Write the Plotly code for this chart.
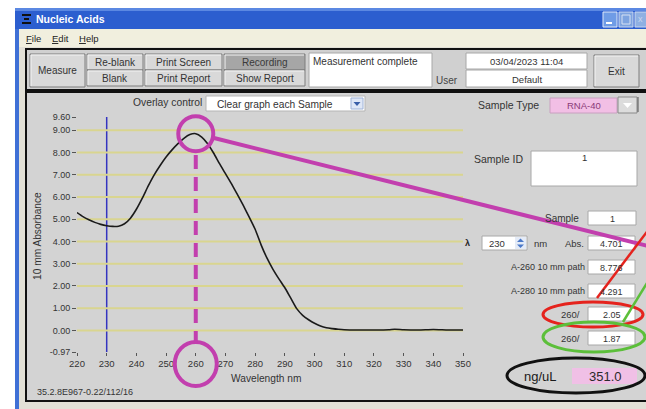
import plotly.graph_objects as go

# ---------------- data ----------------
wavelength = [220, 222, 224, 226, 228, 230, 232, 234, 236, 238, 240, 242, 244, 246, 248,
              250, 252, 254, 256, 258, 260, 262, 264, 266, 268, 270, 272, 274, 276, 278,
              280, 282, 284, 286, 288, 290, 292, 294, 296, 298, 300, 302, 304, 306, 308,
              310, 315, 320, 325, 327, 330, 335, 340, 345, 350]
absorbance = [5.30, 5.12, 4.98, 4.86, 4.77, 4.71, 4.68, 4.69, 4.80, 5.05, 5.45, 5.95, 6.50, 7.00, 7.42,
              7.80, 8.12, 8.40, 8.64, 8.81, 8.85, 8.70, 8.40, 7.98, 7.50, 7.05, 6.60, 6.12, 5.62, 5.10,
              4.55, 3.85, 3.25, 2.75, 2.32, 1.92, 1.45, 0.98, 0.68, 0.48, 0.32, 0.20, 0.12, 0.08, 0.05,
              0.03, 0.02, 0.02, 0.03, 0.05, 0.03, 0.02, 0.04, 0.02, 0.02]

x_ticks = [220, 230, 240, 250, 260, 270, 280, 290, 300, 310, 320, 330, 340, 350]
y_tick_vals = [-0.97, 0, 1, 2, 3, 4, 5, 6, 7, 8, 9, 9.6]
y_tick_text = ["-0.97", "0.00", "1.00", "2.00", "3.00", "4.00", "5.00", "6.00",
               "7.00", "8.00", "9.00", "9.60"]
grid_levels = [0, 1, 2, 3, 4, 5, 6, 7, 8, 9]
x_range = [220, 350]
y_range = [-0.97, 9.60]

selected_nm = 230
peak_nm = 260
peak_abs = 8.85

sample_type = "RNA-40"
sample_id = "1"
sample_no = "1"
lambda_nm = "230"
abs_value = "4.701"
a260_value = "8.776"
a280_value = "4.291"
ratio_a = "2.05"
ratio_b = "1.87"
conc_value = "351.0"
date_text = "03/04/2023 11:04"
user_text = "Default"
status_text = "Measurement complete"
footer_text = "35.2.8E967-0.22/112/16"

# ---------------- geometry helpers ----------------
W, H = 646, 409
L, R, T, B = 77, 463, 117, 352


def px(x):
    return (x - L) / (R - L)


def py(y):
    return (B - y) / (B - T)


def dx(v):
    return (v - x_range[0]) / (x_range[1] - x_range[0])


def dy(v):
    return (v - y_range[0]) / (y_range[1] - y_range[0])


shapes = []
annotations = []
FONT = "Liberation Sans, Arial, sans-serif"


def rect(x0, y0, x1, y1, fill, line=None, lw=1, layer="below"):
    shapes.append(dict(type="rect", xref="paper", yref="paper",
                       x0=px(x0), x1=px(x1), y0=py(y1), y1=py(y0),
                       fillcolor=fill,
                       line=dict(color=line if line else fill, width=lw if line else 0),
                       layer=layer))


def seg(x0, y0, x1, y1, color, lw=1, dash=None, layer="below"):
    ln = dict(color=color, width=lw)
    if dash:
        ln["dash"] = dash
    shapes.append(dict(type="line", xref="paper", yref="paper",
                       x0=px(x0), x1=px(x1), y0=py(y0), y1=py(y1), line=ln, layer=layer))


def ellipse(x0, y0, x1, y1, color, lw=3):
    shapes.append(dict(type="circle", xref="paper", yref="paper",
                       x0=px(x0), x1=px(x1), y0=py(y1), y1=py(y0),
                       line=dict(color=color, width=lw), fillcolor="rgba(0,0,0,0)",
                       layer="above"))


def tri(points, color):
    d = "M " + " L ".join("%f,%f" % (px(a), py(b)) for a, b in points) + " Z"
    shapes.append(dict(type="path", xref="paper", yref="paper", path=d,
                       fillcolor=color, line=dict(color=color, width=0), layer="below"))


def text(x, y, s, size=9, color="#2a2a2a", anchor="left", bold=False, angle=0):
    annotations.append(dict(xref="paper", yref="paper", x=px(x), y=py(y),
                            text=("<b>%s</b>" % s) if bold else s, showarrow=False,
                            xanchor=anchor, yanchor="middle", textangle=angle,
                            borderpad=0,
                            font=dict(size=size, color=color, family=FONT)))


def button(x0, y0, x1, y1, label, fill="#d9d9d9", tcolor="#333"):
    rect(x0, y0, x1, y1, fill, "#7c7c7c", 1)
    seg(x0 + 1, y0 + 1, x1 - 1, y0 + 1, "#f4f4f4", 1)
    seg(x0 + 1, y0 + 1, x0 + 1, y1 - 1, "#f4f4f4", 1)
    text((x0 + x1) / 2, (y0 + y1) / 2 + 0.5, label, 10, tcolor, "center")


def box(x0, y0, x1, y1, s, fill="white", size=9, color="#333", anchor="center", tx=None, bold=False):
    rect(x0, y0, x1, y1, fill, "#a8a8a8", 1)
    if s:
        xx = tx if tx is not None else (x0 + x1) / 2
        text(xx, (y0 + y1) / 2 + 0.5, s, size, color, anchor, bold)


# ---------------- window chrome ----------------
rect(15, 8, 650, 412, "#e2e0d6")
rect(15, 8, 19, 412, "#3f70d6")
rect(15, 8, 650, 29, "#2c5ecf")
rect(15, 8, 650, 11, "#5b88e2")
# title icon
rect(22, 14, 31, 16, "#111")
rect(24, 18, 29, 20, "#111")
rect(22, 22, 31, 24, "#111")
text(35, 19, "Nucleic Acids", 10.5, "white", "left", True)
# title bar buttons
rect(603, 12, 617, 27, "#6f9ce6", "#dfe8f8", 1)
rect(606, 22, 612, 24, "white")
rect(619, 12, 633, 27, "#7ea4e0", "#c9d7f0", 1)
rect(622, 15, 630, 24, "#7ea4e0", "#d6e1f3", 1)
rect(635, 12, 650, 27, "#8fb0e2", "#c9d7f0", 1)
text(640, 19.5, "x", 9, "#c8d6ef", "center")
# menu bar
rect(19, 29, 650, 47, "#f1efde")
text(25, 38, "<u>F</u>ile", 9.5, "#222")
text(51, 38, "<u>E</u>dit", 9.5, "#222")
text(78, 38, "<u>H</u>elp", 9.5, "#222")

# ---------------- toolbar ----------------
rect(26, 49, 652, 90, "#d0d0d0", "#111", 2)
button(30, 54, 85, 87, "Measure")
button(87, 54, 143, 70, "Re-blank")
button(87, 70, 143, 86, "Blank")
button(145, 54, 222, 70, "Print Screen")
button(145, 70, 222, 86, "Print Report")
button(224, 54, 305, 70, "Recording", fill="#a6a6a6", tcolor="#3a3a3a")
button(224, 70, 305, 86, "Show Report")
rect(309, 53, 432, 87, "white", "#a8a8a8", 1)
text(312, 61, status_text, 10, "#333", "left")
text(447, 80, "User", 10, "#444", "center")
box(466, 53, 587, 69, date_text, size=9.5)
box(466, 70, 587, 87, user_text, size=9.5)
button(594, 55, 639, 87, "Exit")

# ---------------- main panel ----------------
rect(26, 92, 652, 401, "#d3d3d3", "#111", 2)
text(167, 103, "Overlay control", 10.3, "#333", "center")
rect(206, 96, 365, 111, "white", "#b5b5b5", 1)
text(216, 104, "Clear graph each Sample", 10.2, "#333", "left")
rect(351, 98, 363, 109, "#dfe7f6", "#9fb3d8", 1)
tri([(353.5, 102), (360.5, 102), (357, 106)], "#3a5fa8")

# right-hand controls
text(508, 105, "Sample Type", 10.5, "#333", "center")
rect(550, 98, 617, 113, "#f2bfe5", "#c9a0c0", 1)
text(584, 105.5, sample_type, 9.5, "#8a3a78", "center")
rect(618, 97, 637, 113, "#dcdcdc", "#8a8a8a", 1)
tri([(623, 103), (632, 103), (627.5, 108)], "white")
seg(638, 97, 638, 112, "#555", 1)

text(498, 159, "Sample ID", 10.5, "#333", "center")
rect(531, 151, 637, 186, "white", "#a8a8a8", 1)
text(584, 157, sample_id, 9.5, "#333", "center")

text(580, 218, "Sample", 10, "#333", "right")
box(588, 211, 636, 225, sample_no)

text(467, 243, "λ", 9, "#222", "center", True)
rect(482, 236, 527, 250, "white", "#a8a8a8", 1)
text(497, 243.5, lambda_nm, 9.5, "#333", "center")
rect(515, 237, 526, 249, "#e4ebf7")
tri([(517, 242), (524, 242), (520.5, 238.5)], "#4a78c8")
tri([(517, 244.5), (524, 244.5), (520.5, 248)], "#4a78c8")
text(533, 243, "nm", 9.5, "#333", "left")
text(585, 243, "Abs.", 9.5, "#333", "right")
box(588, 236, 635, 250, abs_value)

text(586, 267, "A-260 10 mm path", 9, "#333", "right")
box(588, 260, 635, 274, a260_value)
text(586, 291, "A-280 10 mm path", 9, "#333", "right")
box(588, 284, 635, 298, a280_value)
text(581, 314, "260/", 9.5, "#333", "right")
box(588, 307, 635, 321, ratio_a)
text(581, 338, "260/", 9.5, "#333", "right")
box(588, 331, 635, 345, ratio_b)

text(540, 376, "ng/uL", 13, "#1a1a1a", "center")
rect(572, 368, 637, 384, "#f0c0e6")
text(605, 376.5, conc_value, 13, "#2a2a2a", "center")

# axis titles and footer
text(37, 236, "10 mm Absorbance", 10.2, "#333", "center", angle=-90)
text(266, 378, "Wavelength nm", 10.2, "#333", "center")
text(36, 392, footer_text, 9, "#333", "left")

# ---------------- plot-level shapes ----------------
for g in grid_levels:
    shapes.append(dict(type="line", xref="x", yref="y", x0=x_range[0], x1=x_range[1],
                       y0=g, y1=g, line=dict(color="#d9d58f", width=2), layer="below"))
shapes.append(dict(type="line", xref="x", yref="paper", x0=selected_nm, x1=selected_nm,
                   y0=0, y1=1, line=dict(color="#3434c0", width=1.5), layer="below"))

# ---------------- hand-drawn overlays ----------------
MAG = "#c23fae"
pk_x, pk_y = dx(peak_nm), dy(peak_abs)
shapes.append(dict(type="circle", xref="paper", yref="paper", xsizemode="pixel", ysizemode="pixel",
                   xanchor=pk_x, yanchor=pk_y, x0=-17.5, x1=17.5, y0=-17.5, y1=17.5,
                   line=dict(color=MAG, width=4), fillcolor="rgba(0,0,0,0)", layer="above"))
shapes.append(dict(type="circle", xref="paper", yref="paper", xsizemode="pixel", ysizemode="pixel",
                   xanchor=pk_x, yanchor=py(364), x0=-21, x1=21, y0=-22, y1=22,
                   line=dict(color=MAG, width=4), fillcolor="rgba(0,0,0,0)", layer="above"))
shapes.append(dict(type="line", xref="paper", yref="paper", x0=pk_x, x1=pk_x,
                   y0=py(155), y1=py(343), line=dict(color=MAG, width=4, dash="14px,8px"),
                   layer="above"))
seg(212, 137.5, 652, 247, MAG, 4, layer="above")

ellipse(543, 302, 643, 327, "#e5231d", 3)
seg(597, 298, 652, 225, "#e5231d", 2.5, layer="above")
ellipse(543, 322, 645, 352, "#5cbf3a", 3)
seg(623, 322, 650, 278, "#5cbf3a", 2.5, layer="above")
ellipse(507, 358, 645, 393, "#111", 3)

# ---------------- figure ----------------
fig = go.Figure()
fig.add_trace(go.Scatter(x=wavelength, y=absorbance, mode="lines",
                         line=dict(color="#1a1a1a", width=1.6, shape="spline", smoothing=0.6),
                         hoverinfo="skip", showlegend=False))

fig.update_layout(
    width=W, height=H, autosize=False,
    margin=dict(l=L, r=W - R, t=T, b=H - B, pad=0),
    paper_bgcolor="white", plot_bgcolor="white",
    showlegend=False,
    xaxis=dict(range=x_range, tickvals=x_ticks, ticks="outside", ticklen=3, tickcolor="#555",
               showgrid=False, zeroline=False, showline=False,
               tickfont=dict(size=9.5, color="#333", family=FONT), fixedrange=True),
    yaxis=dict(range=y_range, tickvals=y_tick_vals, ticktext=y_tick_text, ticks="outside",
               ticklen=4, tickcolor="#555", showgrid=False, zeroline=False, showline=False,
               tickfont=dict(size=9, color="#333", family=FONT), fixedrange=True),
    shapes=shapes, annotations=annotations,
)

fig.write_html("out.html", config={"displayModeBar": False},
               post_script="document.body.style.margin='0';")
